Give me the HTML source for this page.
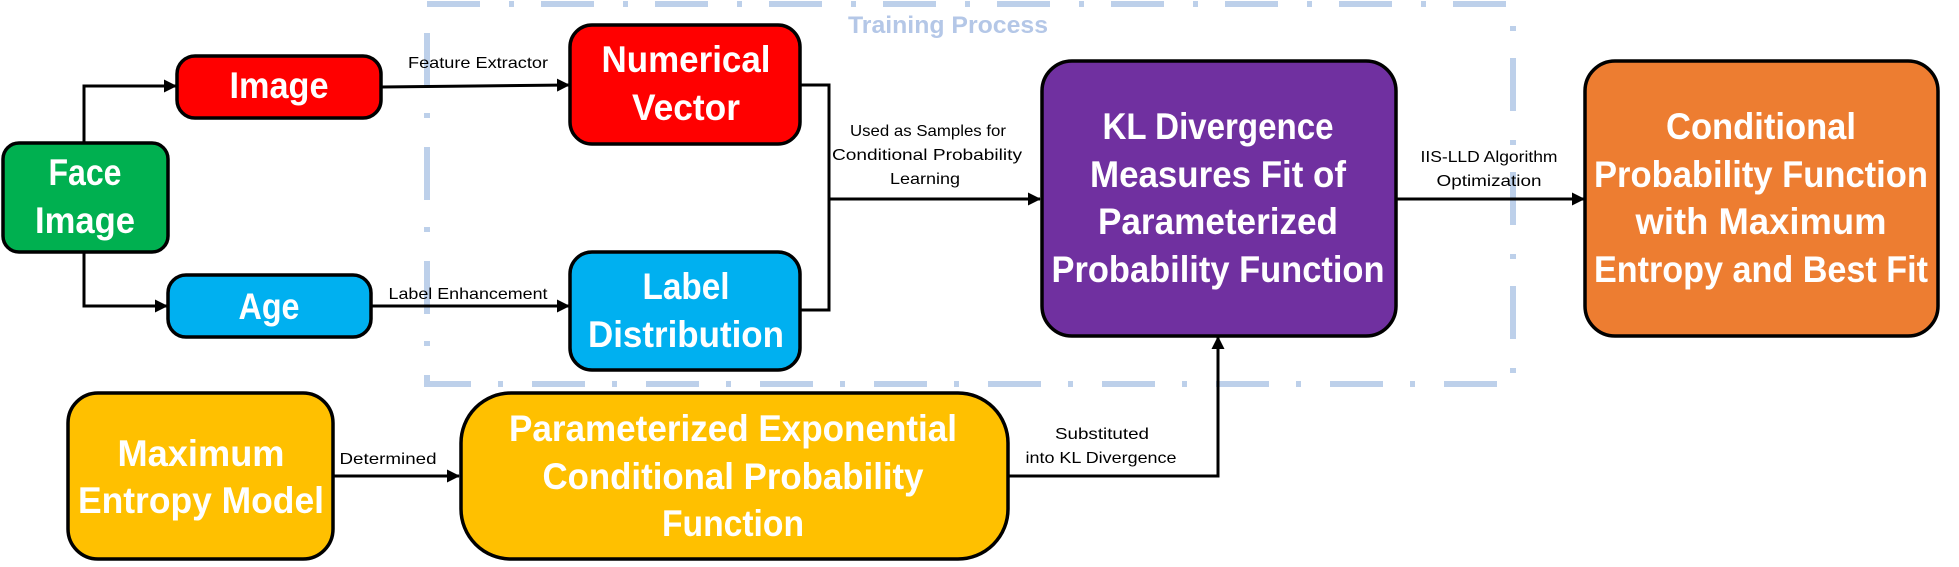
<!DOCTYPE html>
<html><head><meta charset="utf-8"><style>
html,body{margin:0;padding:0;background:#fff;width:1959px;height:567px;overflow:hidden}
svg{display:block}
.b{font-family:"Liberation Sans",sans-serif;font-weight:bold;font-size:37px;fill:#fff}
.s{font-family:"Liberation Sans",sans-serif;font-size:16px;fill:#000}
</style></head><body>
<svg width="1959" height="567" viewBox="0 0 1959 567" xmlns="http://www.w3.org/2000/svg">
<defs><marker id="a" markerWidth="13" markerHeight="13" refX="12" refY="6.5" orient="auto" markerUnits="userSpaceOnUse"><path d="M0,0 L13,6.5 L0,13 z" fill="#000"/></marker></defs>
<rect x="427" y="4" width="1086" height="380" fill="none" stroke="#bdd0ea" stroke-width="6" stroke-dasharray="53,29,5,27"/>
<text x="848" y="33" font-family="Liberation Sans,sans-serif" font-weight="bold" font-size="24" fill="#b4c7e7" textLength="200" lengthAdjust="spacingAndGlyphs">Training Process</text>
<g stroke="#000" stroke-width="3" fill="none">
<path d="M84,142 V86 H176" marker-end="url(#a)"/>
<path d="M84,252 V306 H167" marker-end="url(#a)"/>
<path d="M381,87 L569,85" marker-end="url(#a)"/>
<path d="M371,306 H569" marker-end="url(#a)"/>
<path d="M800,85 H829 V310 H800"/>
<path d="M829,199 H1040" marker-end="url(#a)"/>
<path d="M1396,199 H1584" marker-end="url(#a)"/>
<path d="M333,476 H459" marker-end="url(#a)"/>
<path d="M1008,476 H1218 V337" marker-end="url(#a)"/>
</g>
<g stroke="#000" stroke-width="3.5">
<rect x="3" y="143" width="165" height="109" rx="16" fill="#00b050"/>
<rect x="177" y="56" width="204" height="62" rx="18" fill="#ff0000"/>
<rect x="168" y="275" width="203" height="62" rx="18" fill="#00b0f0"/>
<rect x="570" y="25" width="230" height="119" rx="22" fill="#ff0000"/>
<rect x="570" y="252" width="230" height="118" rx="22" fill="#00b0f0"/>
<rect x="68" y="393" width="265" height="166" rx="30" fill="#ffc000"/>
<rect x="461" y="393" width="547" height="166" rx="50" fill="#ffc000"/>
<rect x="1042" y="61" width="354" height="275" rx="30" fill="#7030a0"/>
<rect x="1585" y="61" width="353" height="275" rx="30" fill="#ed7d31"/>
</g>
<g class="b" text-anchor="middle">
<text x="85" y="185" textLength="73" lengthAdjust="spacingAndGlyphs">Face</text>
<text x="85" y="233" textLength="100" lengthAdjust="spacingAndGlyphs">Image</text>
<text x="279" y="98" textLength="99" lengthAdjust="spacingAndGlyphs">Image</text>
<text x="269" y="319" textLength="61" lengthAdjust="spacingAndGlyphs">Age</text>
<text x="686" y="72" textLength="169" lengthAdjust="spacingAndGlyphs">Numerical</text>
<text x="686" y="120" textLength="108" lengthAdjust="spacingAndGlyphs">Vector</text>
<text x="686" y="299" textLength="87" lengthAdjust="spacingAndGlyphs">Label</text>
<text x="686" y="347" textLength="196" lengthAdjust="spacingAndGlyphs">Distribution</text>
<text x="201" y="466" textLength="167" lengthAdjust="spacingAndGlyphs">Maximum</text>
<text x="201" y="513" textLength="246" lengthAdjust="spacingAndGlyphs">Entropy Model</text>
<text x="733" y="441" textLength="448" lengthAdjust="spacingAndGlyphs">Parameterized Exponential</text>
<text x="733" y="489" textLength="381" lengthAdjust="spacingAndGlyphs">Conditional Probability</text>
<text x="733" y="536" textLength="142" lengthAdjust="spacingAndGlyphs">Function</text>
<text x="1218" y="139" textLength="231" lengthAdjust="spacingAndGlyphs">KL Divergence</text>
<text x="1218" y="187" textLength="256" lengthAdjust="spacingAndGlyphs">Measures Fit of</text>
<text x="1218" y="234" textLength="240" lengthAdjust="spacingAndGlyphs">Parameterized</text>
<text x="1218" y="282" textLength="333" lengthAdjust="spacingAndGlyphs">Probability Function</text>
<text x="1761" y="139" textLength="190" lengthAdjust="spacingAndGlyphs">Conditional</text>
<text x="1761" y="187" textLength="334" lengthAdjust="spacingAndGlyphs">Probability Function</text>
<text x="1761" y="234" textLength="251" lengthAdjust="spacingAndGlyphs">with Maximum</text>
<text x="1761" y="282" textLength="334" lengthAdjust="spacingAndGlyphs">Entropy and Best Fit</text>
</g>
<g class="s" text-anchor="middle">
<text x="478" y="68" textLength="140" lengthAdjust="spacingAndGlyphs">Feature Extractor</text>
<text x="468" y="299" textLength="159" lengthAdjust="spacingAndGlyphs">Label Enhancement</text>
<text x="928" y="136" textLength="156" lengthAdjust="spacingAndGlyphs">Used as Samples for</text>
<text x="927" y="160" textLength="190" lengthAdjust="spacingAndGlyphs">Conditional Probability</text>
<text x="925" y="184" textLength="70" lengthAdjust="spacingAndGlyphs">Learning</text>
<text x="1489" y="162" textLength="137" lengthAdjust="spacingAndGlyphs">IIS-LLD Algorithm</text>
<text x="1489" y="186" textLength="105" lengthAdjust="spacingAndGlyphs">Optimization</text>
<text x="388" y="464" textLength="97" lengthAdjust="spacingAndGlyphs">Determined</text>
<text x="1102" y="439" textLength="94" lengthAdjust="spacingAndGlyphs">Substituted</text>
<text x="1101" y="463" textLength="151" lengthAdjust="spacingAndGlyphs">into KL Divergence</text>
</g>
</svg>
</body></html>
